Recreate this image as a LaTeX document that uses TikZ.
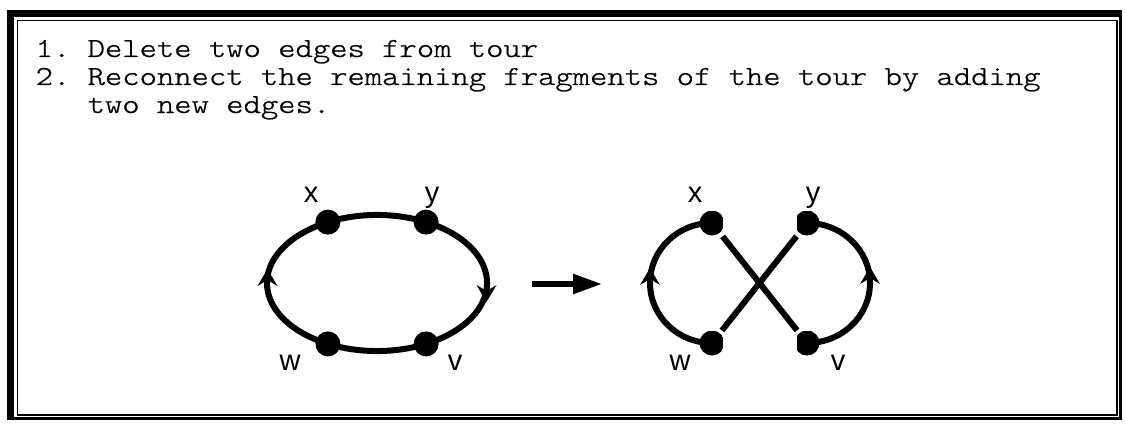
\documentclass[tikz,border=0pt]{standalone}
\usepackage{fontspec}
\setmainfont{Liberation Sans}
\newfontfamily\monof[FakeStretch=1.2,FakeBold=0.8]{Latin Modern Mono Light}
\usetikzlibrary{arrows.meta}
\pgfdeclarelayer{back}
\pgfdeclarelayer{bg}
\pgfsetlayers{back,bg,main}
\begin{document}
\frenchspacing
\begin{tikzpicture}[x=1pt,y=1pt,
  dot/.style={circle,minimum size=25pt,inner sep=0pt,fill=black},
  cutright/.style={circle,minimum size=25pt,inner sep=0pt,
    path picture={\fill (path picture bounding box.south west) rectangle ([xshift=-2pt]path picture bounding box.north east);}},
  cutleft/.style={circle,minimum size=25pt,inner sep=0pt,
    path picture={\fill ([xshift=2pt]path picture bounding box.south west) rectangle (path picture bounding box.north east);}},
  edge/.style={line width=6pt},
  lbl/.style={font=\fontsize{29}{33}\selectfont,inner sep=0pt,anchor=base},
  txt/.style={font=\monof\fontsize{27.5}{32}\selectfont,anchor=base west,inner sep=0pt},
  chevron/.pic={\fill (0,9) -- (-10,-8) -- (0,-2) -- (10,-8) -- cycle;}
]
\useasboundingbox (0,0) rectangle (1126,424);
% frame
\begin{pgfonlayer}{back}
\fill (7,414) rectangle (1122,4);
\fill[white] (14,407) rectangle (1119,7);
\draw[line width=1.2pt] (17.5,403.5) rectangle (1117,9);
\end{pgfonlayer}

% text
\node[txt] (t1) at (35.5,367) {1. Delete two edges from tour};
\node[txt] (t2) at (35.5,339) {2. Reconnect the remaining fragments of the tour by adding};
\node[txt] (t3) at (87.5,311) {two new edges.};

% left diagram
\node[dot] (lx) at (327.9,201.9) {};
\node[dot] (ly) at (426.1,201.9) {};
\node[dot] (lv) at (426.1,80.1) {};
\node[dot] (lw) at (327.9,80.1) {};
\begin{pgfonlayer}{bg}
\draw[edge] (lx.center) arc[start angle=116.5,end angle=63.5,x radius=110,y radius=68];
\draw[edge] (ly.center) arc[start angle=63.5,end angle=-63.5,x radius=110,y radius=68];
\draw[edge] (lv.center) arc[start angle=-63.5,end angle=-116.5,x radius=110,y radius=68];
\draw[edge] (lw.center) arc[start angle=243.5,end angle=116.5,x radius=110,y radius=68];
\end{pgfonlayer}
\pic at (267.5,146) {chevron};
\pic[rotate=180] at (486.5,131) {chevron};
\node[lbl] (llx) at (311,222) {x};
\node[lbl] (lly) at (432,222) {y};
\node[lbl] (llw) at (290,54) {w};
\node[lbl] (llv) at (455,54) {v};

% middle arrow
\coordinate (as) at (532,140);
\coordinate (ae) at (602,140);
\draw[line width=5.5pt,-{Triangle[length=29pt,width=19pt]}] (as) -- (ae);

% right diagram
\node[cutright] (rx) at (712,201) {};
\node[cutleft] (ry) at (807,201) {};
\node[cutleft] (rv) at (807,81) {};
\node[cutright] (rw) at (712,81) {};
\begin{pgfonlayer}{bg}
\draw[edge] (rw.center) arc[start angle=270,end angle=90,x radius=62,y radius=60];
\draw[edge] (rv.center) arc[start angle=-90,end angle=90,x radius=63,y radius=60];
\end{pgfonlayer}
\pic at (650,147) {chevron};
\pic at (870,148) {chevron};
\draw[edge,shorten <=17pt,shorten >=16pt] (rx.center) -- (rv.center);
\draw[edge,shorten <=17pt,shorten >=16pt] (ry.center) -- (rw.center);
\node[lbl] (rlx) at (695,222) {x};
\node[lbl] (rly) at (813,222) {y};
\node[lbl] (rlw) at (680,54) {w};
\node[lbl] (rlv) at (838,54) {v};
\end{tikzpicture}
\end{document}
